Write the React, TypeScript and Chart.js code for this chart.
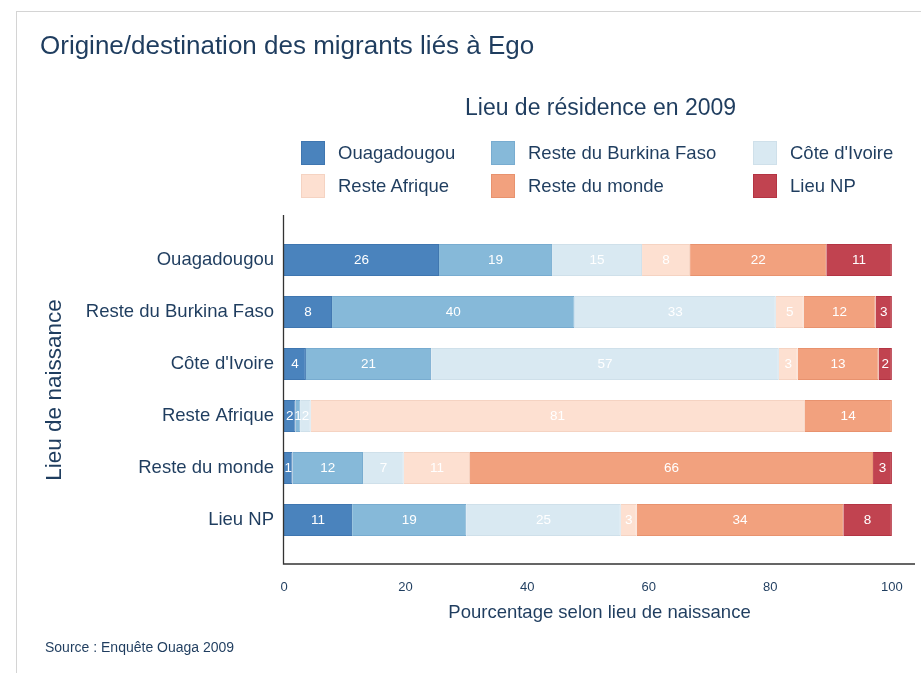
import React, { useEffect, useRef } from "react";
import { Chart, registerables } from "chart.js";

Chart.register(...registerables);

const categories = [
  "Ouagadougou",
  "Reste du Burkina Faso",
  "Côte d'Ivoire",
  "Reste Afrique",
  "Reste du monde",
  "Lieu NP",
];

const seriesNames = [
  "Ouagadougou",
  "Reste du Burkina Faso",
  "Côte d'Ivoire",
  "Reste Afrique",
  "Reste du monde",
  "Lieu NP",
];

// values per residence (series), indexed by birth place (category)
const ouagadougou = [25.5, 7.9, 3.6, 1.9, 1.4, 11.2];
const resteBurkina = [18.6, 39.9, 20.6, 0.8, 11.6, 18.8];
const coteIvoire = [14.8, 33.1, 57.2, 1.7, 6.7, 25.4];
const resteAfrique = [7.9, 4.6, 3.1, 81.2, 10.9, 2.6];
const resteMonde = [22.4, 11.8, 13.3, 14.4, 66.3, 34.0];
const lieuNP = [10.8, 2.7, 2.2, 0, 3.1, 8.0];

const seriesValues = [ouagadougou, resteBurkina, coteIvoire, resteAfrique, resteMonde, lieuNP];

const colors = ["#4a83bd", "#86b9d9", "#d9e9f2", "#fde0d1", "#f2a17e", "#c14350"];
const borderColors = ["#3f76b0", "#78acd0", "#cfe0ea", "#f5d3c2", "#e8926e", "#b43443"];

const xTicks = [0, 20, 40, 60, 80, 100];

const TEXT = "#1f3d5f";
const FONT = "'Liberation Sans', Arial, Helvetica, sans-serif";

const PLOT_LEFT = 284;
const PLOT_RIGHT = 915;
const PLOT_TOP = 234;
const PLOT_BOTTOM = 546;
const AXIS_TOP = 215;
const AXIS_BOTTOM = 564;

const axisLinesPlugin = {
  id: "axisLines",
  afterDraw(chart: any) {
    const { ctx, chartArea } = chart;
    ctx.save();
    ctx.strokeStyle = "#333333";
    ctx.lineWidth = 1.3;
    ctx.beginPath();
    ctx.moveTo(chartArea.left - 0.5, chartArea.top - (PLOT_TOP - AXIS_TOP));
    ctx.lineTo(chartArea.left - 0.5, chartArea.bottom + (AXIS_BOTTOM - PLOT_BOTTOM));
    ctx.lineTo(chartArea.right, chartArea.bottom + (AXIS_BOTTOM - PLOT_BOTTOM));
    ctx.stroke();
    ctx.restore();
  },
};

const barLabelsPlugin = {
  id: "barLabels",
  afterDatasetsDraw(chart: any) {
    const { ctx } = chart;
    ctx.save();
    ctx.fillStyle = "#ffffff";
    ctx.font = `13.5px ${FONT}`;
    ctx.textAlign = "center";
    ctx.textBaseline = "middle";
    chart.data.datasets.forEach((ds: any, di: number) => {
      const meta = chart.getDatasetMeta(di);
      meta.data.forEach((el: any, i: number) => {
        const v = Math.round(ds.data[i]);
        if (v < 1) return;
        const c = el.getCenterPoint();
        ctx.fillText(String(v), c.x, c.y + 0.5);
      });
    });
    ctx.restore();
  },
};

export default function App() {
  const canvasRef = useRef<HTMLCanvasElement | null>(null);

  useEffect(() => {
    if (!canvasRef.current) return;
    const chart = new Chart(canvasRef.current, {
      type: "bar",
      data: {
        labels: categories,
        datasets: seriesNames.map((name, i) => ({
          label: name,
          data: seriesValues[i],
          backgroundColor: colors[i],
          borderColor: borderColors[i],
          borderWidth: 1,
          barPercentage: 0.615,
          categoryPercentage: 1,
        })),
      },
      options: {
        indexAxis: "y",
        responsive: false,
        animation: false,
        layout: { padding: { top: PLOT_TOP, right: 921 - PLOT_RIGHT, bottom: 0, left: 0 } },
        plugins: {
          legend: { display: false },
          title: { display: false },
          tooltip: { enabled: false },
        },
        scales: {
          x: {
            stacked: true,
            min: 0,
            max: 103.8,
            afterFit: (s: any) => {
              s.height = 673 - PLOT_BOTTOM;
              s.paddingLeft = 0;
              s.paddingRight = 0;
            },
            afterBuildTicks: (s: any) => {
              s.ticks = xTicks.map((v) => ({ value: v }));
            },
            grid: { display: false, drawTicks: false },
            border: { display: false },
            ticks: {
              includeBounds: false,
              padding: 34,
              color: TEXT,
              font: { family: FONT, size: 13 },
            },
            title: {
              display: true,
              text: "Pourcentage selon lieu de naissance",
              color: TEXT,
              font: { family: FONT, size: 18.5 },
              padding: { top: 0, bottom: 49 },
            },
          },
          y: {
            stacked: true,
            afterFit: (s: any) => {
              s.width = PLOT_LEFT;
              s.paddingTop = 0;
              s.paddingBottom = 0;
            },
            grid: { display: false, drawTicks: false },
            border: { display: false },
            ticks: {
              padding: 10,
              color: TEXT,
              font: { family: FONT, size: 18.5 },
            },
            title: {
              display: true,
              text: "Lieu de naissance",
              color: TEXT,
              font: { family: FONT, size: 22.5 },
              padding: { top: 41, bottom: 0 },
            },
          },
        },
      },
      plugins: [axisLinesPlugin, barLabelsPlugin],
    } as any);
    return () => chart.destroy();
  }, []);

  const legendCols = [301, 491, 753];
  const legendRows = [141, 174];

  return (
    <div
      style={{
        position: "absolute",
        left: 0,
        top: 0,
        width: 921,
        height: 673,
        overflow: "hidden",
        background: "#ffffff",
        fontFamily: FONT,
        color: TEXT,
      }}
    >
      <div
        style={{
          position: "absolute",
          left: 16,
          top: 11,
          width: 1000,
          height: 800,
          borderLeft: "1px solid #d4d4d4",
          borderTop: "1px solid #d4d4d4",
        }}
      />
      <canvas
        ref={canvasRef}
        width={921}
        height={673}
        style={{ position: "absolute", left: 0, top: 0, width: 921, height: 673 }}
      />
      <div
        style={{
          position: "absolute",
          left: 40,
          top: 30,
          fontSize: 26,
          lineHeight: "30px",
          whiteSpace: "nowrap",
        }}
      >
        Origine/destination des migrants liés à Ego
      </div>
      <div
        style={{
          position: "absolute",
          left: 465,
          top: 93,
          fontSize: 23,
          lineHeight: "28px",
          whiteSpace: "nowrap",
        }}
      >
        Lieu de résidence en 2009
      </div>
      {seriesNames.map((name, i) => {
        const col = i % 3;
        const row = Math.floor(i / 3);
        return (
          <div
            key={name}
            style={{
              position: "absolute",
              left: legendCols[col],
              top: legendRows[row],
              height: 24,
              display: "flex",
              alignItems: "center",
              whiteSpace: "nowrap",
            }}
          >
            <span
              style={{
                display: "inline-block",
                width: 22,
                height: 22,
                background: colors[i],
                border: `1px solid ${borderColors[i]}`,
                marginRight: 13,
              }}
            />
            <span style={{ fontSize: 18.5, lineHeight: "24px" }}>{name}</span>
          </div>
        );
      })}
      <div
        style={{
          position: "absolute",
          left: 45,
          top: 638,
          fontSize: 14,
          lineHeight: "18px",
          whiteSpace: "nowrap",
        }}
      >
        Source : Enquête Ouaga 2009
      </div>
    </div>
  );
}
